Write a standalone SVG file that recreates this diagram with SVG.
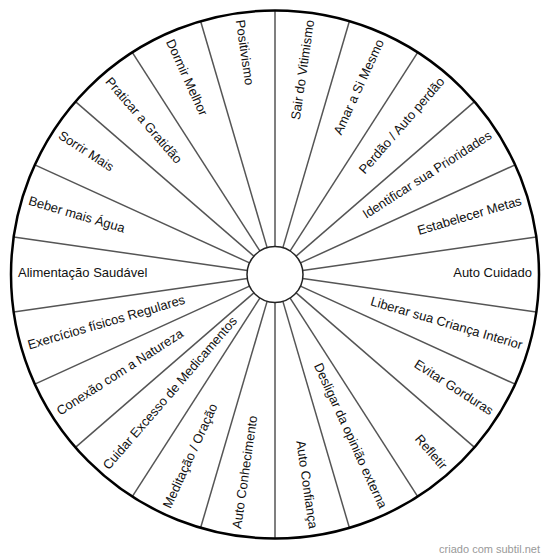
<svg xmlns="http://www.w3.org/2000/svg" width="550" height="560" viewBox="0 0 550 560">
<style>
.div{stroke:#555;stroke-width:1.5}
.lbl{font-family:"Liberation Sans",Arial,sans-serif;font-size:13px;fill:#111}
.r{text-anchor:end}
.l{text-anchor:start}
.wm{font-family:"Liberation Sans",Arial,sans-serif;font-size:11px;fill:#999;text-anchor:end}
</style>
<rect width="550" height="560" fill="#fff"/>
<g transform="translate(275 274.5)">
<g id="connectors">
<line class="div" x1="28" y1="0" x2="264" y2="0" transform="rotate(8.1818)"/>
<line class="div" x1="28" y1="0" x2="264" y2="0" transform="rotate(24.5455)"/>
<line class="div" x1="28" y1="0" x2="264" y2="0" transform="rotate(40.9091)"/>
<line class="div" x1="28" y1="0" x2="264" y2="0" transform="rotate(57.2727)"/>
<line class="div" x1="28" y1="0" x2="264" y2="0" transform="rotate(73.6364)"/>
<line class="div" x1="28" y1="0" x2="264" y2="0" transform="rotate(90)"/>
<line class="div" x1="28" y1="0" x2="264" y2="0" transform="rotate(106.3636)"/>
<line class="div" x1="28" y1="0" x2="264" y2="0" transform="rotate(122.7273)"/>
<line class="div" x1="28" y1="0" x2="264" y2="0" transform="rotate(139.0909)"/>
<line class="div" x1="28" y1="0" x2="264" y2="0" transform="rotate(155.4545)"/>
<line class="div" x1="28" y1="0" x2="264" y2="0" transform="rotate(171.8182)"/>
<line class="div" x1="28" y1="0" x2="264" y2="0" transform="rotate(188.1818)"/>
<line class="div" x1="28" y1="0" x2="264" y2="0" transform="rotate(204.5455)"/>
<line class="div" x1="28" y1="0" x2="264" y2="0" transform="rotate(220.9091)"/>
<line class="div" x1="28" y1="0" x2="264" y2="0" transform="rotate(237.2727)"/>
<line class="div" x1="28" y1="0" x2="264" y2="0" transform="rotate(253.6364)"/>
<line class="div" x1="28" y1="0" x2="264" y2="0" transform="rotate(270)"/>
<line class="div" x1="28" y1="0" x2="264" y2="0" transform="rotate(286.3636)"/>
<line class="div" x1="28" y1="0" x2="264" y2="0" transform="rotate(302.7273)"/>
<line class="div" x1="28" y1="0" x2="264" y2="0" transform="rotate(319.0909)"/>
<line class="div" x1="28" y1="0" x2="264" y2="0" transform="rotate(335.4545)"/>
<line class="div" x1="28" y1="0" x2="264" y2="0" transform="rotate(351.8182)"/>
</g>
<g id="wheel">
<circle r="264" fill="none" stroke="#000" stroke-width="2.5"/>
<circle r="28" fill="#fff" stroke="#222" stroke-width="1.5"/>
</g>
<g id="n0"><text class="lbl r" x="257" dy="0.2em" transform="rotate(0)">Auto Cuidado</text></g>
<g id="n1"><text class="lbl r" x="257" dy="0.2em" transform="rotate(16.3636)">Liberar sua Criança Interior</text></g>
<g id="n2"><text class="lbl r" x="257" dy="0.2em" transform="rotate(32.7273)">Evitar Gorduras</text></g>
<g id="n3"><text class="lbl r" x="257" dy="0.2em" transform="rotate(49.0909)">Refletir</text></g>
<g id="n4"><text class="lbl r" x="257" dy="0.2em" transform="rotate(65.4545)">Desligar da opinião externa</text></g>
<g id="n5"><text class="lbl r" x="257" dy="0.2em" transform="rotate(81.8182)">Auto Confiança</text></g>
<g id="n6"><text class="lbl l" x="-257" dy="0.2em" transform="rotate(-81.8182)">Auto Conhecimento</text></g>
<g id="n7"><text class="lbl l" x="-257" dy="0.2em" transform="rotate(-65.4545)">Meditação / Oração</text></g>
<g id="n8"><text class="lbl l" x="-257" dy="0.2em" transform="rotate(-49.0909)">Cuidar Excesso de Medicamentos</text></g>
<g id="n9"><text class="lbl l" x="-257" dy="0.2em" transform="rotate(-32.7273)">Conexão com a Natureza</text></g>
<g id="n10"><text class="lbl l" x="-257" dy="0.2em" transform="rotate(-16.3636)">Exercícios físicos Regulares</text></g>
<g id="n11"><text class="lbl l" x="-257" dy="0.2em" transform="rotate(0)">Alimentação Saudável</text></g>
<g id="n12"><text class="lbl l" x="-257" dy="0.2em" transform="rotate(16.3636)">Beber mais Água</text></g>
<g id="n13"><text class="lbl l" x="-257" dy="0.2em" transform="rotate(32.7273)">Sorrir Mais</text></g>
<g id="n14"><text class="lbl l" x="-257" dy="0.2em" transform="rotate(49.0909)">Praticar a Gratidão</text></g>
<g id="n15"><text class="lbl l" x="-257" dy="0.2em" transform="rotate(65.4545)">Dormir Melhor</text></g>
<g id="n16"><text class="lbl l" x="-257" dy="0.2em" transform="rotate(81.8182)">Positivismo</text></g>
<g id="n17"><text class="lbl r" x="257" dy="0.2em" transform="rotate(-81.8182)">Sair do Vitimismo</text></g>
<g id="n18"><text class="lbl r" x="257" dy="0.2em" transform="rotate(-65.4545)">Amar a Si Mesmo</text></g>
<g id="n19"><text class="lbl r" x="257" dy="0.2em" transform="rotate(-49.0909)">Perdão / Auto perdão</text></g>
<g id="n20"><text class="lbl r" x="257" dy="0.2em" transform="rotate(-32.7273)">Identificar sua Prioridades</text></g>
<g id="n21"><text class="lbl r" x="257" dy="0.2em" transform="rotate(-16.3636)">Estabelecer Metas</text></g>
</g>
<text class="wm" x="540" y="553">criado com subtil.net</text>
</svg>
